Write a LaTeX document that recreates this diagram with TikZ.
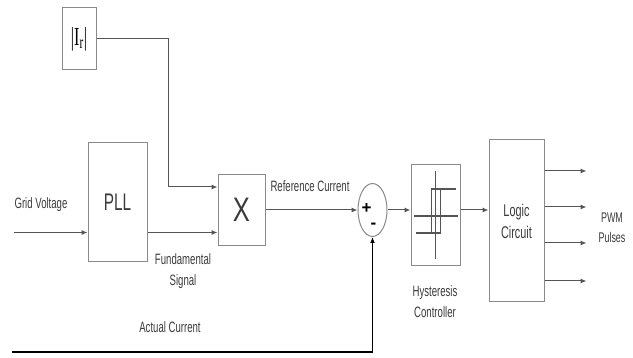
\documentclass[tikz,border=0pt]{standalone}
\usepackage{fontspec}
\setmainfont{Liberation Sans}
\newfontfamily\narrowfont[FakeStretch=0.64]{Liberation Sans}
\newfontfamily\blockfont[FakeStretch=0.75]{Liberation Sans}
\newfontfamily\irfont[FakeStretch=0.62]{Liberation Serif}
\usepackage{tikz}
\usetikzlibrary{shapes.geometric, arrows.meta, positioning, calc}
\definecolor{boxgray}{HTML}{8A8A8A}
\definecolor{linegray}{HTML}{555555}
\definecolor{txtgray}{HTML}{3A3A3A}

\begin{document}
\begin{tikzpicture}[
		x=1pt, y=-1pt,
		every node/.style={font={\narrowfont\fontsize{15}{21}\selectfont}, text=txtgray},
		box/.style={draw=boxgray, line width=1pt, inner sep=0pt, align=center},
		lbl/.style={align=center},
		arrow/.style={draw=linegray, line width=1pt, -{Latex[length=6pt,width=5pt]}}
		]
		\useasboundingbox (0,0) rectangle (633,358);
		
		% Nodos
		\node[box, minimum width=34pt, minimum height=62pt, text=black] (ir) at (79,39) {\irfont\fontsize{26}{26}\selectfont |I\textsubscript{r}|};
		\node[box, minimum width=59pt, minimum height=119pt, font={\narrowfont\fontsize{24}{24}\selectfont}] (pll) at (117.5,202.5) {PLL};
		\node[box, minimum width=47pt, minimum height=71pt, font={\blockfont\fontsize{34}{34}\selectfont}] (mult) at (241.5,210) {X};
		\node[draw=boxgray, line width=1pt, ellipse, minimum width=29pt, minimum height=53pt, inner sep=0pt] (sum) at (372.5,210) {};
		\node[font={\bfseries\fontsize{17}{17}\selectfont}, text=black] (plus) at ($(sum)+(-6,-1)$) {+};
		\node[font={\bfseries\fontsize{17}{17}\selectfont}, text=black] (minus) at ($(sum)+(1,16)$) {-};
		\node[box, minimum width=49pt, minimum height=101pt] (hyst) at (435.5,215.5) {};
		\node[box, minimum width=55pt, minimum height=162pt, font={\narrowfont\fontsize{17}{22}\selectfont}] (logic) at (516.5,221) {Logic\\Circuit};
		
		% Textos
		\node[lbl] (gridlbl) at (41,205) {Grid Voltage};
		\node[lbl] (fundlbl) at (183,271) {Fundamental\\Signal};
		\node[lbl] (reflbl) at (310,186) {Reference Current};
		\node[lbl] (actlbl) at (170,327) {Actual Current};
		\node[lbl] (hystlbl) at (435,302) {Hysteresis\\Controller};
		\node[lbl, font={\narrowfont\fontsize{14}{20}\selectfont}] (pwmlbl) at (612,228) {PWM\\Pulses};
		
		% Histeresis
		\begin{scope}[shift={(hyst.center)}, draw=linegray]
			\draw[line width=1.6pt] (0,-44) -- (0,44);
			\draw[line width=1.6pt] (-22,0.5) -- (22,0.5);
			\draw[line width=1.6pt] (-5,-26.5) -- (20,-26.5);
			\draw[line width=1.6pt] (-20,17.5) -- (5,17.5);
			\draw[line width=0.8pt] (-4.5,-26.5) -- (-4.5,17.5) (4.5,-26.5) -- (4.5,17.5);
		\end{scope}
		
		% Flechas
		\coordinate (gridin) at (14,232.5);
		\coordinate (feedin) at (12,352);
		\draw[arrow] (gridin) -- (gridin -| pll.west);
		\draw[arrow] (ir.east) -| ($(mult.west -| pll.east)+(21,-23)$) -- ($(mult.west)+(0,-23)$);
		\draw[arrow] ($(mult.west -| pll.east)+(0,22.5)$) -- ($(mult.west)+(0,22.5)$);
		\draw[arrow] (mult.east) -- (sum.west);
		\draw[arrow] (sum.east) -- (sum.east -| hyst.west);
		\draw[arrow] (hyst.east |- sum.east) -- (logic.west |- sum.east);
		\draw[arrow, draw=black, line width=1.4pt] (feedin) -| (sum.south);
		\foreach \dy in {-50,-14,22,60}
			\draw[arrow] ($(logic.east)+(0,\dy)$) -- ++(42,0);
		
\end{tikzpicture}
\end{document}
